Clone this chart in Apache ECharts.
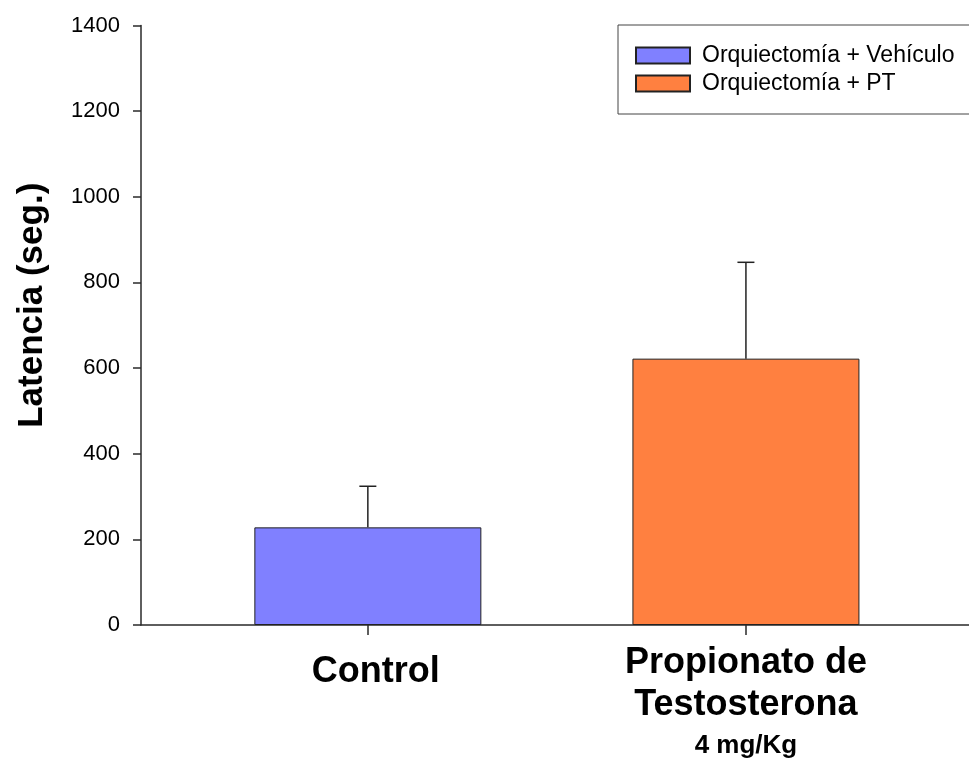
<!DOCTYPE html>
<html>
<head>
<meta charset="utf-8">
<script src="https://cdn.jsdelivr.net/npm/echarts@6/dist/echarts.min.js"></script>
<style>
  html, body { margin: 0; padding: 0; background: #ffffff; }
  #chart { width: 969px; height: 760px; }
</style>
</head>
<body>
<div id="chart"></div>
<script>
// Group labels (one entry per bar), dose notes and series
const groupLines = [['Control'], ['Propionato de', 'Testosterona']];
const groupDoses = ['', '4 mg/Kg'];
const seriesNames = ['Orquiectomía + Vehículo', 'Orquiectomía + PT'];
const seriesColors = ['#8080ff', '#ff8040'];
// Mean latency (s) and its upper error (s)
const latencyMean = [228, 622];
const latencyErr = [96, 225];
const yTicks = [0, 200, 400, 600, 800, 1000, 1200, 1400];

const positions = groupLines.map((g, i) => i + 1);
const FONT = '"Liberation Sans", Arial, Helvetica, sans-serif';
const AXIS_COLOR = '#2a2a2a';

const chart = echarts.init(document.getElementById('chart'), null, { renderer: 'canvas' });

const barSeries = seriesNames.map((name, i) => ({
  name: name,
  type: 'bar',
  barWidth: 227,
  barGap: '-100%',
  data: [[positions[i], latencyMean[i]]],
  itemStyle: { color: seriesColors[i], borderColor: '#222', borderWidth: 1 },
  z: 2
}));

const errorSeries = {
  type: 'custom',
  name: 'error',
  silent: true,
  z: 3,
  data: positions.map((p, i) => [p, latencyMean[i], latencyMean[i] + latencyErr[i]]),
  renderItem: function (params, api) {
    const x = api.value(0);
    const lo = api.coord([x, api.value(1)]);
    const hi = api.coord([x, api.value(2)]);
    const half = 8.5;
    const st = { stroke: '#222', lineWidth: 1.5 };
    return {
      type: 'group',
      children: [
        { type: 'line', shape: { x1: lo[0], y1: lo[1], x2: hi[0], y2: hi[1] }, style: st },
        { type: 'line', shape: { x1: hi[0] - half, y1: hi[1], x2: hi[0] + half, y2: hi[1] }, style: st }
      ]
    };
  }
};

function groupLabel(v) {
  const i = Math.round(v) - 1;
  const lines = groupLines[i];
  if (!lines) return '';
  if (lines.length === 1 && !groupDoses[i]) return '{c|' + lines[0] + '}';
  let s = lines.map(l => '{a|' + l + '}').join('\n');
  if (groupDoses[i]) s += '\n{b|' + groupDoses[i] + '}';
  return s;
}

const option = {
  backgroundColor: '#ffffff',
  animation: false,
  textStyle: { fontFamily: FONT, color: '#000' },
  grid: { left: 141, right: 0, top: 25.5, bottom: 135 },
  legend: {
    data: seriesNames,
    orient: 'vertical',
    left: 618,
    top: 25,
    icon: 'rect',
    itemWidth: 54,
    itemHeight: 16,
    itemGap: 5,
    padding: [19, 40, 19, 17],
    borderColor: '#444',
    borderWidth: 1,
    textStyle: { fontFamily: FONT, fontSize: 23, lineHeight: 22, color: '#000', padding: [0, 0, 0, 7] }
  },
  xAxis: {
    type: 'value',
    min: 0.4,
    max: 2.59,
    splitLine: { show: false },
    axisLine: { show: true, onZero: false, lineStyle: { color: AXIS_COLOR, width: 1.5 } },
    axisTick: { show: true, customValues: positions, length: 10, lineStyle: { color: AXIS_COLOR, width: 1.5 } },
    axisLabel: {
      customValues: positions,
      margin: 17,
      formatter: groupLabel,
      rich: {
        c: { fontFamily: FONT, fontSize: 36, fontWeight: 'bold', lineHeight: 60, color: '#000', padding: [0, 0, 0, 16] },
        a: { fontFamily: FONT, fontSize: 36, fontWeight: 'bold', lineHeight: 42, color: '#000' },
        b: { fontFamily: FONT, fontSize: 26, fontWeight: 'bold', lineHeight: 40, color: '#000' }
      }
    }
  },
  yAxis: {
    type: 'value',
    min: yTicks[0],
    max: yTicks[yTicks.length - 1],
    interval: yTicks[1] - yTicks[0],
    name: 'Latencia (seg.)',
    nameLocation: 'middle',
    nameGap: 91,
    nameTextStyle: { fontFamily: FONT, fontSize: 35, fontWeight: 'bold', color: '#000', padding: [0, 0, 0, 40] },
    splitLine: { show: false },
    axisLine: { show: true, lineStyle: { color: AXIS_COLOR, width: 1.5 } },
    axisTick: { show: true, length: 8, lineStyle: { color: AXIS_COLOR, width: 1.5 } },
    axisLabel: {
      fontFamily: FONT, fontSize: 22, color: '#000', margin: 21,
      formatter: v => String(v)
    }
  },
  series: barSeries.concat([errorSeries])
};

chart.setOption(option);
</script>
</body>
</html>
